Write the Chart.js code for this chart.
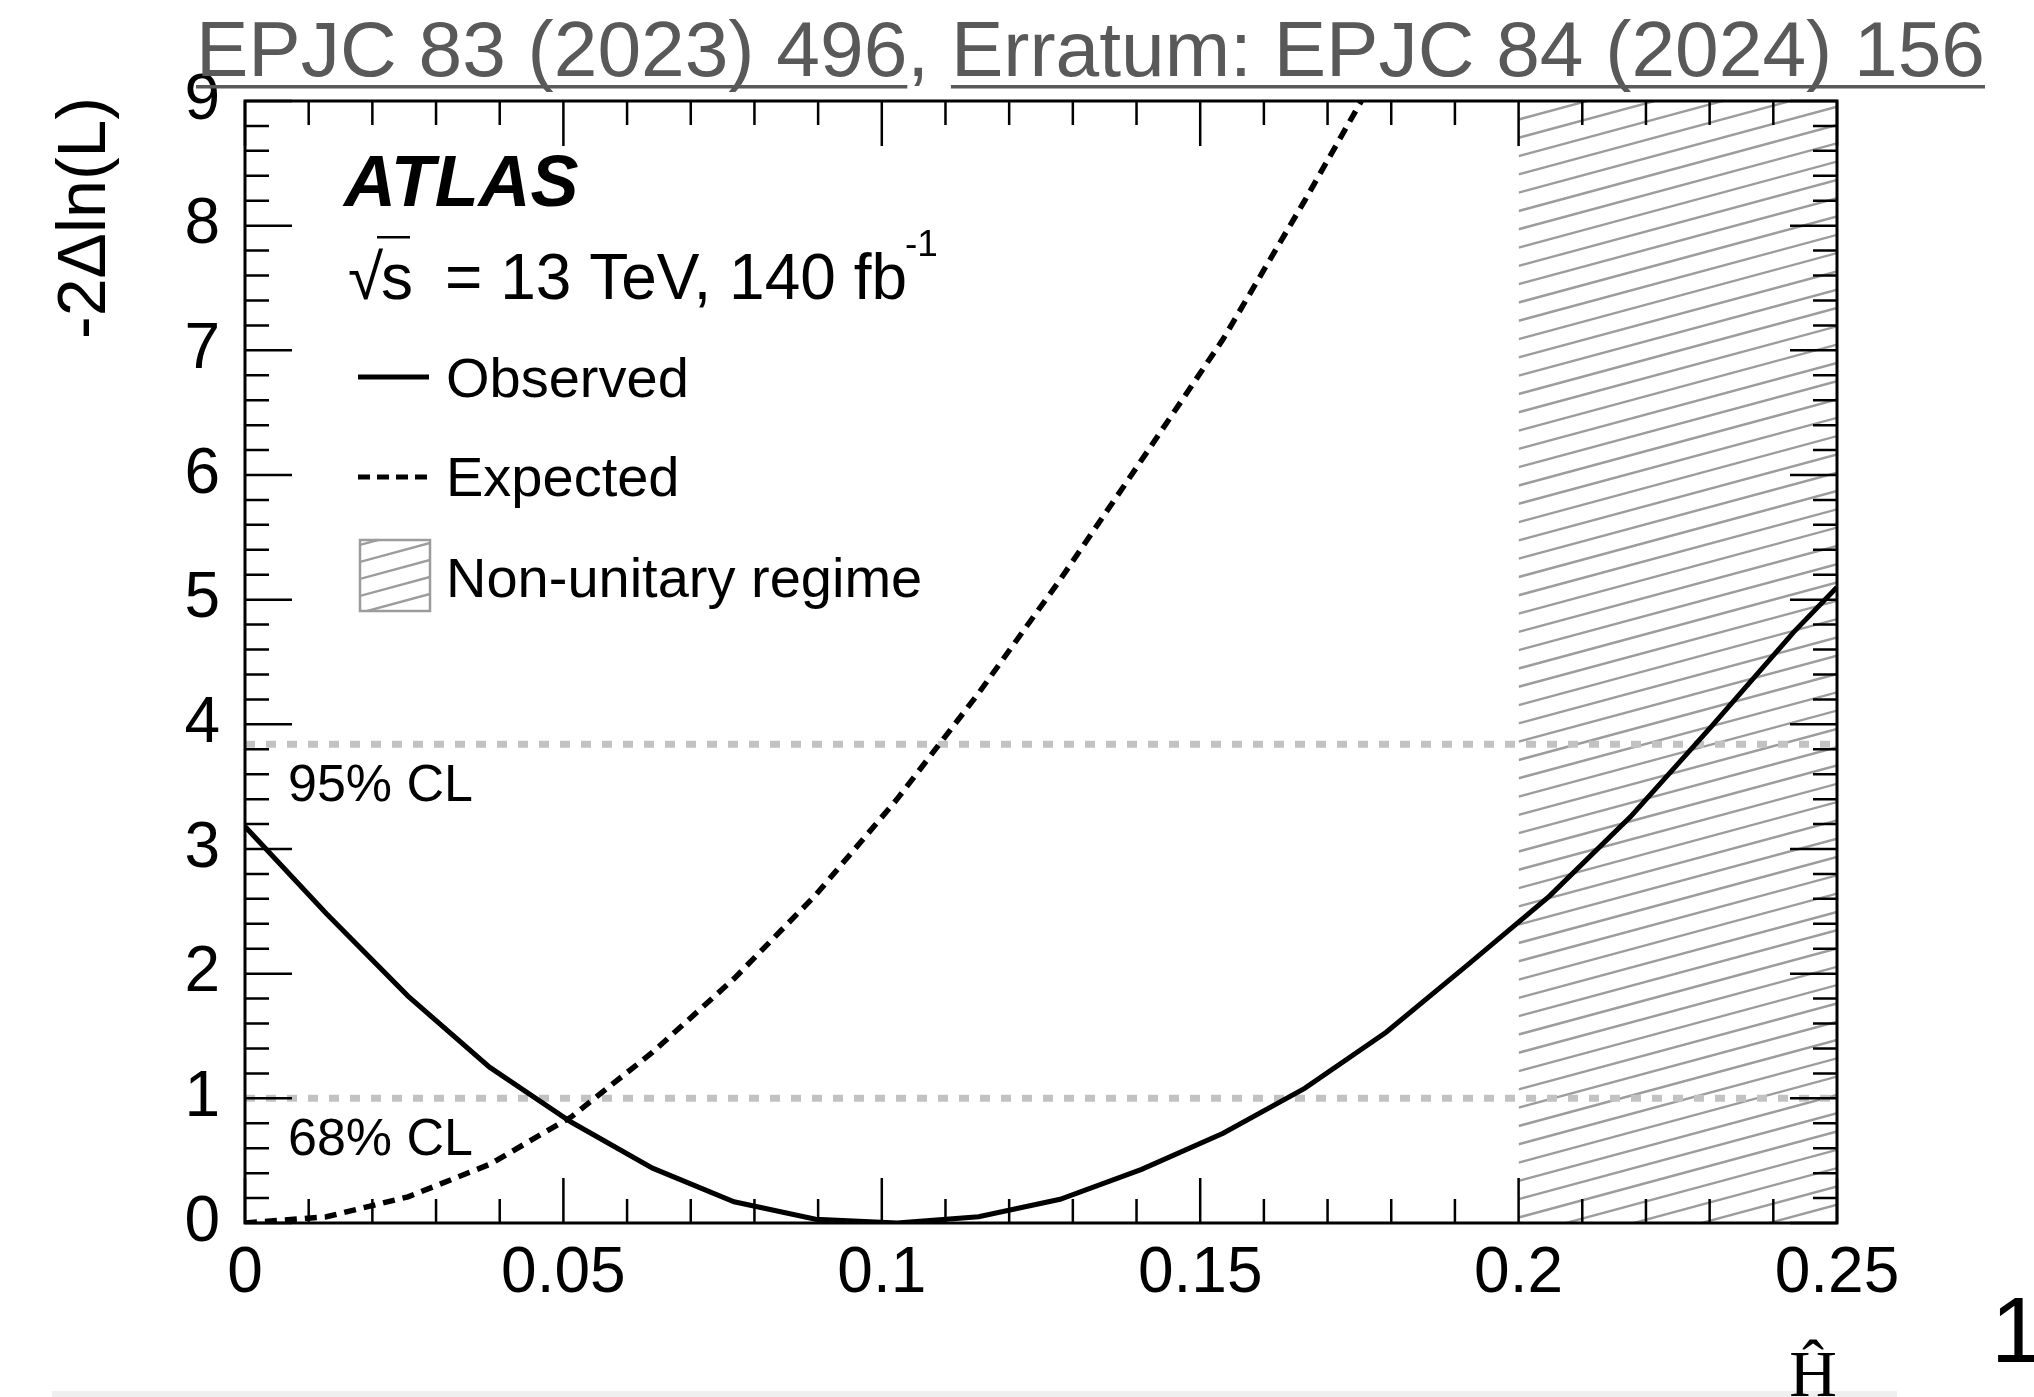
<!DOCTYPE html>
<html lang="en">
<head>
<meta charset="UTF-8">
<title>-2Δln(L) scan</title>
<script src="https://cdn.jsdelivr.net/npm/chart.js"></script>
<style>
  html, body { margin: 0; padding: 0; background: #fff; }
  #wrap { position: relative; width: 2034px; height: 1397px; overflow: hidden; }
</style>
</head>
<body>
<div id="wrap"><canvas id="scan" width="2034" height="1397"></canvas></div>
<script>
// likelihood scan points
const obsX = [0, 0.0128, 0.0256, 0.0384, 0.0512, 0.064, 0.0768, 0.0896, 0.1024, 0.1152,
              0.128, 0.1408, 0.1536, 0.1664, 0.1792, 0.192, 0.2048, 0.2176, 0.2304, 0.2432, 0.25];
const obsY = [3.18, 2.48, 1.82, 1.25, 0.81, 0.44, 0.17, 0.03, 0.0, 0.05,
              0.19, 0.43, 0.72, 1.08, 1.53, 2.07, 2.62, 3.26, 3.99, 4.74, 5.10];
const expX = [0, 0.0128, 0.0256, 0.0384, 0.0512, 0.064, 0.0768, 0.0896, 0.1024, 0.1152,
              0.128, 0.1408, 0.1536, 0.1664, 0.1792];
const expY = [0, 0.05, 0.21, 0.47, 0.85, 1.37, 1.96, 2.63, 3.40, 4.25,
              5.16, 6.12, 7.09, 8.20, 9.35];

const clLevels = [3.84, 1];
const clNames = ['95% CL', '68% CL'];
const nonUnitaryFrom = 0.2;
const xMin = 0, xMax = 0.25, yMin = 0, yMax = 9;
const legendNames = ['Observed', 'Expected', 'Non-unitary regime'];

const SANS = "'Liberation Sans', Arial, Helvetica, sans-serif";
const SERIF = "'Liberation Serif', 'Times New Roman', serif";

function pts(xs, ys) { return xs.map((x, i) => ({ x: x, y: ys[i] })); }

function hatch(ctx, x0, y0, x1, y1, gap, slope) {
  const rise = (x1 - x0) * slope;
  ctx.beginPath();
  for (let y = y1 + rise; y > y0 - 1; y -= gap) {
    ctx.moveTo(x0, y);
    ctx.lineTo(x1, y - rise);
  }
  ctx.stroke();
}

const rootStyle = {
  id: 'rootStyle',
  beforeDatasetsDraw(chart) {
    const { ctx, chartArea: a, scales: { x } } = chart;
    const x0 = x.getPixelForValue(nonUnitaryFrom), x1 = x.getPixelForValue(xMax);
    ctx.save();
    ctx.beginPath();
    ctx.rect(x0, a.top, x1 - x0, a.bottom - a.top);
    ctx.clip();
    ctx.strokeStyle = '#9c9c9c';
    ctx.lineWidth = 2.4;
    hatch(ctx, x0, a.top, x1, a.bottom, 18.3, 0.27);
    ctx.restore();
  },
  afterDatasetsDraw(chart) {
    const { ctx, chartArea: a, scales: { x, y } } = chart;
    ctx.save();
    ctx.strokeStyle = '#000';
    ctx.lineWidth = 2.5;
    ctx.beginPath();
    for (let i = 0; i <= 25; i++) {
      const px = x.getPixelForValue(i * 0.01);
      const len = i % 5 ? 24 : 45;
      ctx.moveTo(px, a.bottom); ctx.lineTo(px, a.bottom - len);
      ctx.moveTo(px, a.top); ctx.lineTo(px, a.top + len);
    }
    for (let i = 0; i <= 45; i++) {
      const py = y.getPixelForValue(i * 0.2);
      const len = i % 5 ? 24 : 47;
      ctx.moveTo(a.left, py); ctx.lineTo(a.left + len, py);
      ctx.moveTo(a.right, py); ctx.lineTo(a.right - len, py);
    }
    ctx.stroke();
    ctx.lineWidth = 3;
    ctx.strokeRect(a.left, a.top, a.right - a.left, a.bottom - a.top);
    ctx.restore();
  },
  afterDraw(chart) {
    const { ctx, chartArea: a, scales: { x, y } } = chart;
    ctx.save();

    // publication reference line
    ctx.font = `78.5px ${SANS}`;
    ctx.fillStyle = '#595959';
    ctx.textBaseline = 'alphabetic';
    const parts = [['EPJC 83 (2023) 496', true], [', ', false], ['Erratum: EPJC 84 (2024) 156', true]];
    let tx = 196;
    parts.forEach(([t, ul]) => {
      ctx.fillText(t, tx, 76);
      const w = ctx.measureText(t).width;
      if (ul) ctx.fillRect(tx, 85, w, 3.5);
      tx += w;
    });

    ctx.fillStyle = '#000';

    // ATLAS label
    ctx.font = `italic bold 72px ${SANS}`;
    ctx.fillText('ATLAS', 344, 206);

    // sqrt(s) line
    ctx.font = `64px ${SANS}`;
    ctx.fillText('√', 348, 299);
    ctx.fillText('s', 381, 299);
    ctx.fillRect(377, 236, 33, 2.5);
    ctx.fillText('= 13 TeV, 140 fb', 445, 299);
    const w13 = ctx.measureText('= 13 TeV, 140 fb').width;
    ctx.font = `37px ${SANS}`;
    ctx.fillText('-1', 445 + w13 - 2, 256);

    // legend
    ctx.font = `56px ${SANS}`;
    ctx.lineWidth = 5;
    ctx.strokeStyle = '#000';
    ctx.beginPath(); ctx.moveTo(358, 377); ctx.lineTo(429, 377); ctx.stroke();
    ctx.fillText(legendNames[0], 446, 397);
    ctx.setLineDash([12, 7]);
    ctx.beginPath(); ctx.moveTo(358, 477); ctx.lineTo(429, 477); ctx.stroke();
    ctx.setLineDash([]);
    ctx.fillText(legendNames[1], 446, 496);
    ctx.save();
    ctx.beginPath(); ctx.rect(360, 540, 70, 71); ctx.clip();
    ctx.strokeStyle = '#9c9c9c'; ctx.lineWidth = 2.4;
    hatch(ctx, 360, 540, 430, 611, 17, 0.27);
    ctx.restore();
    ctx.strokeStyle = '#9c9c9c'; ctx.lineWidth = 2.5;
    ctx.strokeRect(360, 540, 70, 71);
    ctx.fillText(legendNames[2], 446, 597);

    // confidence level labels
    ctx.font = `52px ${SANS}`;
    clLevels.forEach((lv, i) => {
      ctx.fillText(clNames[i], a.left + 43, y.getPixelForValue(lv) + 57);
    });

    // axis titles
    ctx.font = `66px ${SERIF}`;
    ctx.textAlign = 'right';
    ctx.fillStyle = '#efefef';
    ctx.fillRect(52, 1391, 1845, 6);
    ctx.fillStyle = '#000';
    ctx.fillText('Ĥ', a.right, 1396);
    ctx.save();
    ctx.translate(105, a.top - 4);
    ctx.rotate(-Math.PI / 2);
    ctx.font = `68px ${SANS}`;
    ctx.fillText('-2Δln(L)', 0, 0);
    ctx.restore();

    // page number at the edge
    ctx.textAlign = 'left';
    ctx.font = `93px ${SANS}`;
    ctx.fillText('1', 1991, 1362);
    ctx.restore();
  }
};

const tickFont = { family: SANS, size: 64 };

new Chart(document.getElementById('scan'), {
  type: 'line',
  data: {
    datasets: [
      { label: legendNames[0], data: pts(obsX, obsY), borderColor: '#000', borderWidth: 5, order: 1 },
      { label: legendNames[1], data: pts(expX, expY), borderColor: '#000', borderWidth: 5.5, borderDash: [12, 8], order: 2 },
      { label: clNames[0], data: [{ x: xMin, y: clLevels[0] }, { x: xMax, y: clLevels[0] }],
        borderColor: '#c2c2c2', borderWidth: 7, borderDash: [10, 11], order: 3 },
      { label: clNames[1], data: [{ x: xMin, y: clLevels[1] }, { x: xMax, y: clLevels[1] }],
        borderColor: '#c2c2c2', borderWidth: 7, borderDash: [10, 11], order: 3 }
    ]
  },
  options: {
    responsive: false,
    devicePixelRatio: 1,
    animation: false,
    events: [],
    elements: { point: { radius: 0 }, line: { tension: 0, borderCapStyle: 'butt' } },
    layout: { autoPadding: false, padding: { left: 0, top: 101, right: 197, bottom: 0 } },
    plugins: { legend: { display: false }, tooltip: { enabled: false } },
    scales: {
      x: {
        type: 'linear', min: xMin, max: xMax,
        grid: { display: false, drawTicks: false },
        border: { display: false },
        ticks: {
          stepSize: 0.05, color: '#000', font: tickFont, padding: 13, maxRotation: 0,
          callback: v => String(+v.toFixed(2))
        },
        afterFit(s) { s.height = 174; }
      },
      y: {
        type: 'linear', min: yMin, max: yMax,
        grid: { display: false, drawTicks: false },
        border: { display: false },
        ticks: { stepSize: 1, color: '#000', font: tickFont, padding: 25 },
        afterFit(s) { s.width = 245; }
      }
    }
  },
  plugins: [rootStyle]
});
</script>
</body>
</html>
